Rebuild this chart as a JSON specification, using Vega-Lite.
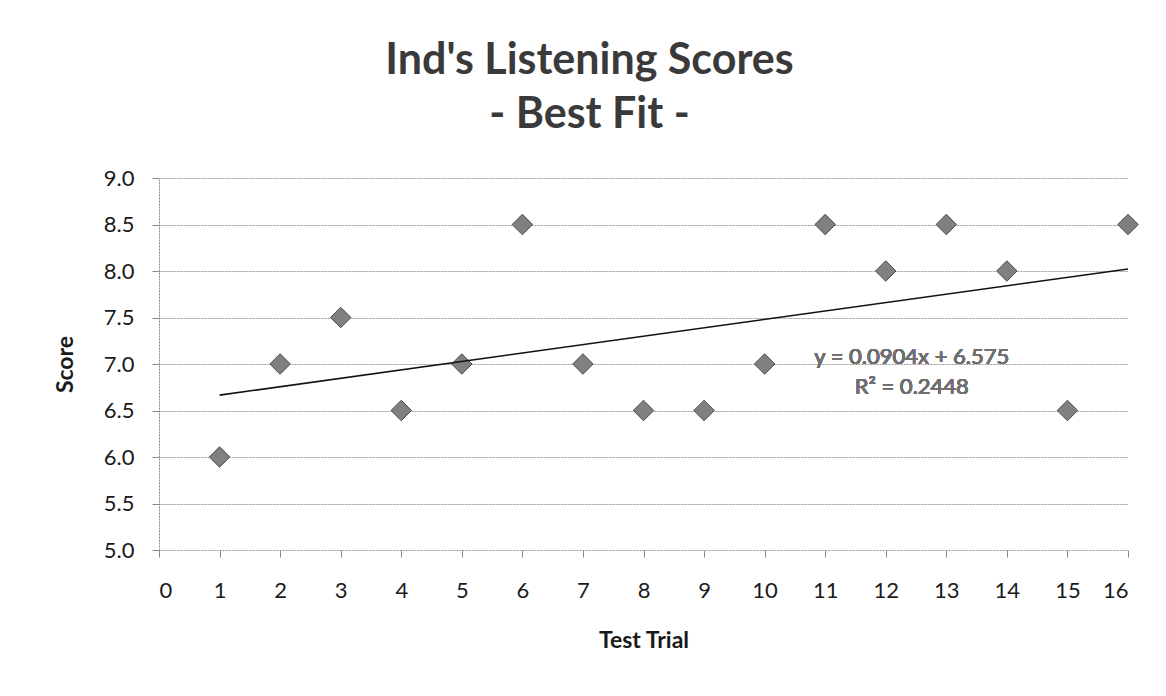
{
  "$schema": "https://vega.github.io/schema/vega-lite/v6.json",
  "autosize": {"type": "none"},
  "width": 969,
  "height": 372,
  "padding": {"left": 159, "top": 178, "right": 38, "bottom": 146},
  "background": "white",
  "title": {
    "text": ["Ind's Listening Scores", "- Best Fit -"],
    "font": "Lato",
    "fontSize": 43,
    "fontWeight": "bold",
    "color": "#3a3a3a",
    "lineHeight": 54,
    "anchor": "middle",
    "dx": -54,
    "offset": 30
  },
  "config": {
    "view": {"stroke": null},
    "axis": {
      "labelFont": "Lato",
      "titleFont": "Lato",
      "labelColor": "#1a1a1a",
      "titleColor": "#1a1a1a",
      "labelFontSize": 22,
      "titleFontSize": 23,
      "titleFontWeight": "bold",
      "domainColor": "#8a8a8a",
      "tickColor": "#8a8a8a",
      "gridColor": "#9a9a9a",
      "gridDash": [2, 1],
      "domainDash": [2, 1],
      "tickSize": 7
    }
  },
  "data": {
    "values": [
      {"trial": 1, "score": 6.0},
      {"trial": 2, "score": 7.0},
      {"trial": 3, "score": 7.5},
      {"trial": 4, "score": 6.5},
      {"trial": 5, "score": 7.0},
      {"trial": 6, "score": 8.5},
      {"trial": 7, "score": 7.0},
      {"trial": 8, "score": 6.5},
      {"trial": 9, "score": 6.5},
      {"trial": 10, "score": 7.0},
      {"trial": 11, "score": 8.5},
      {"trial": 12, "score": 8.0},
      {"trial": 13, "score": 8.5},
      {"trial": 14, "score": 8.0},
      {"trial": 15, "score": 6.5},
      {"trial": 16, "score": 8.5}
    ]
  },
  "layer": [
    {
      "mark": {"type": "point", "shape": "diamond", "filled": true, "size": 420, "fill": "#808080", "stroke": "#4a4a4a", "strokeWidth": 1, "opacity": 1},
      "encoding": {
        "x": {
          "field": "trial", "type": "quantitative",
          "scale": {"domain": [0, 16], "nice": false, "zero": false},
          "axis": {"title": "Test Trial", "values": [0,1,2,3,4,5,6,7,8,9,10,11,12,13,14,15,16], "grid": false, "domain": false, "labelPadding": 23, "titlePadding": 28, "format": "d"}
        },
        "y": {
          "field": "score", "type": "quantitative",
          "scale": {"domain": [5, 9], "nice": false, "zero": false},
          "axis": {"title": "Score", "values": [5, 5.5, 6, 6.5, 7, 7.5, 8, 8.5, 9], "format": ".1f", "grid": true, "labelPadding": 18, "titlePadding": 26}
        }
      }
    },
    {
      "transform": [{"regression": "score", "on": "trial"}],
      "mark": {"type": "line", "color": "#111111", "strokeWidth": 1.6},
      "encoding": {
        "x": {"field": "trial", "type": "quantitative"},
        "y": {"field": "score", "type": "quantitative"}
      }
    },
    {
      "mark": {"type": "text", "font": "Lato", "fontSize": 22, "color": "#707070", "lineHeight": 30, "align": "center", "baseline": "middle"},
      "encoding": {
        "x": {"datum": 12.43},
        "y": {"datum": 7.08},
        "text": {"value": ["y = 0.0904x + 6.575", "R² = 0.2448"]}
      }
    }
  ]
}
